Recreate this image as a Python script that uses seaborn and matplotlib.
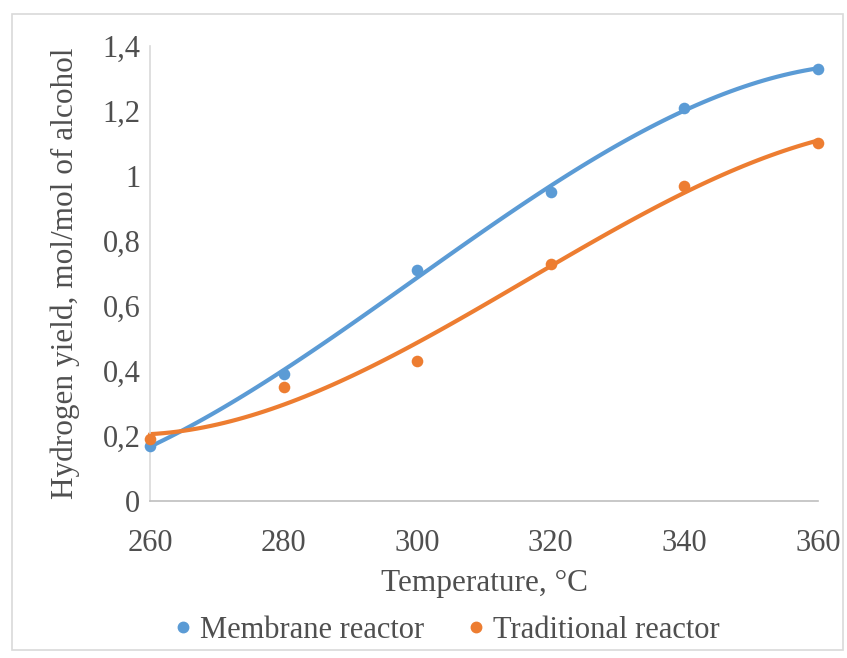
import matplotlib
matplotlib.use("Agg")
import matplotlib.pyplot as plt
from matplotlib.ticker import FuncFormatter, MultipleLocator
from matplotlib.patches import Rectangle
from matplotlib.lines import Line2D
import seaborn as sns
import pandas as pd

temperature = [260, 280, 300, 320, 340, 360]
membrane_yield = [0.17, 0.39, 0.71, 0.95, 1.21, 1.33]
traditional_yield = [0.19, 0.35, 0.43, 0.73, 0.97, 1.10]
series_names = ["Membrane reactor", "Traditional reactor"]
colors = ["#5B9BD5", "#ED7D31"]
text_color = "#4F4F4F"

sns.set_theme(style="white")
plt.rcParams["font.family"] = ["Liberation Serif", "DejaVu Serif"]

fig = plt.figure(figsize=(8.47, 6.58), dpi=100)
ax = fig.add_axes([150 / 847, 1 - 501 / 658, 668 / 847, 455 / 658])

df = pd.DataFrame({
    "T": temperature * 2,
    "Y": membrane_yield + traditional_yield,
    "series": [series_names[0]] * 6 + [series_names[1]] * 6,
})

# measured points with a cubic trendline per reactor
for name, col in zip(series_names, colors):
    sub = df[df["series"] == name]
    sns.regplot(data=sub, x="T", y="Y", order=3, ci=None, ax=ax, truncate=True,
                scatter_kws=dict(s=70, color=col, alpha=1, linewidths=0, zorder=3,
                                 clip_on=False),
                line_kws=dict(color=col, lw=3, zorder=2, clip_on=False))

ax.set_xlim(260, 360)
ax.set_ylim(0, 1.4)
ax.xaxis.set_major_locator(MultipleLocator(20))
ax.yaxis.set_major_locator(MultipleLocator(0.2))

def comma_fmt(v, _):
    s = f"{v:.1f}".rstrip("0").rstrip(".")
    return s.replace(".", ",")

ax.yaxis.set_major_formatter(FuncFormatter(comma_fmt))

for side in ["top", "right"]:
    ax.spines[side].set_visible(False)
ax.spines["left"].set_color("#D9D9D9")
ax.spines["bottom"].set_color("#BFBFBF")
ax.spines["left"].set_linewidth(1.2)
ax.spines["bottom"].set_linewidth(1.2)
ax.tick_params(axis="y", direction="in", length=6, color="#D9D9D9", width=1,
               labelsize=22, labelcolor=text_color, pad=7)
ax.tick_params(axis="x", direction="in", length=7, color="#BFBFBF", width=1,
               labelsize=22, labelcolor=text_color, pad=20)
ax.set_xlabel("Temperature, °C", fontsize=22.5, color=text_color, labelpad=8)
ax.set_ylabel("Hydrogen yield, mol/mol of alcohol", fontsize=22.5, color=text_color,
              labelpad=16)

handles = [Line2D([], [], marker="o", ls="", color=c, markersize=7.5) for c in colors]
fig.legend(handles, series_names, loc="center", bbox_to_anchor=(444 / 847, 1 - 630 / 658),
           ncol=2, frameon=False, fontsize=22, labelcolor=text_color,
           handletextpad=0.05, columnspacing=1.2, handlelength=1.0)

fig.patches.append(Rectangle((12 / 847, 1 - 650 / 658), 831 / 847, 636 / 658,
                             transform=fig.transFigure, fill=False,
                             edgecolor="#D9D9D9", lw=1.2))

fig.savefig("out.png", dpi=100)
